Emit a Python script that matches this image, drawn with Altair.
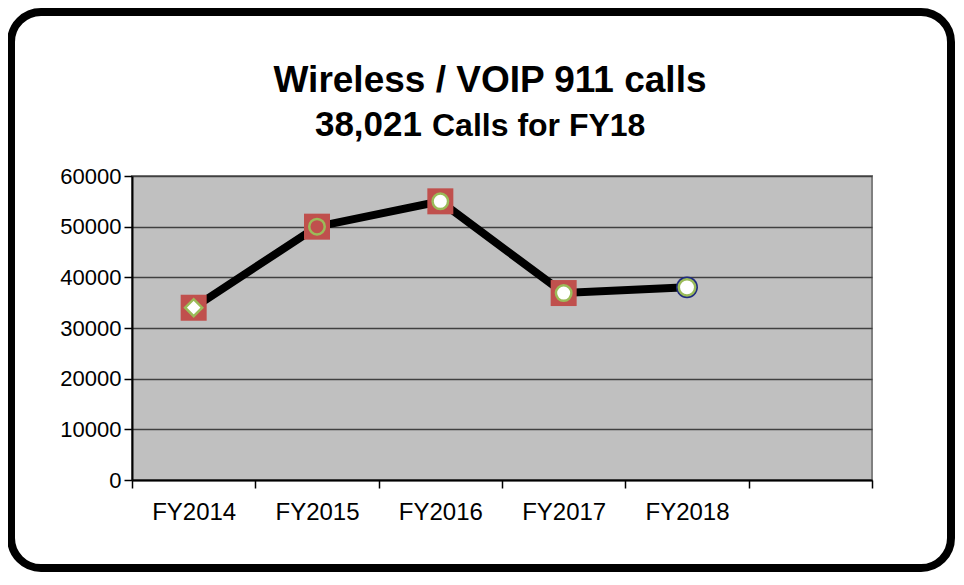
import altair as alt
import pandas as pd

years = ["FY2014", "FY2015", "FY2016", "FY2017", "FY2018"]
calls = [34000, 50000, 55000, 36900, 38021]
x_domain = years + [" "]
y_ticks = [0, 10000, 20000, 30000, 40000, 50000, 60000]

# marker styling per point
back_square = [True, True, True, True, False]
inner_shape = ["diamond", "circle", "circle", "circle", "circle"]
inner_fill = ["white", "#C0504D", "white", "white", "white"]
inner_size = [290, 240, 240, 240, 270]
outer_ring = [False, False, False, False, True]

title1 = "Wireless / VOIP 911 calls"
title2a = "38,021"
title2b = "Calls for FY18"

FONT = "Liberation Sans"

df = pd.DataFrame({
    "year": years, "calls": calls, "square": back_square,
    "shape": inner_shape, "fill": inner_fill, "isize": inner_size,
    "ring": outer_ring,
})

xenc = alt.X("year:N", scale=alt.Scale(type="band", domain=x_domain, paddingInner=0, paddingOuter=0),
             bandPosition=0.5,
             axis=alt.Axis(title=None, labelAngle=0, tickBand="extent", tickSize=8, tickColor="#000000",
                           tickWidth=1.5, domainColor="#000000", domainWidth=2, labelFont=FONT,
                           labelFontSize=24, labelColor="#000000", labelPadding=12, grid=False))
yenc = alt.Y("calls:Q", scale=alt.Scale(domain=[0, 60000], nice=False),
             axis=alt.Axis(title=None, values=y_ticks, format="d", tickSize=8, tickColor="#000000",
                           tickWidth=1.5, domainColor="#000000", domainWidth=2, labelFont=FONT,
                           labelFontSize=22, labelColor="#000000", labelPadding=3,
                           grid=True, gridColor="#404040", gridWidth=1.5))

base = alt.Chart(df)

line = base.mark_line(color="#000000", strokeWidth=8, strokeJoin="miter").encode(x=xenc, y=yenc)

squares = base.transform_filter("datum.square").mark_point(
    shape="square", filled=True, color="#C0504D", size=676, opacity=1
).encode(x=xenc, y=yenc)

rings = base.transform_filter("datum.ring").mark_point(
    shape="circle", filled=True, color="#1F2A80", size=480, opacity=1
).encode(x=xenc, y=yenc)

inner = base.mark_point(stroke="#9BBB59", strokeWidth=2.5, opacity=1).encode(
    x=xenc, y=yenc,
    shape=alt.Shape("shape:N", scale=None),
    fill=alt.Fill("fill:N", scale=None),
    size=alt.Size("isize:Q", scale=None),
)

one = pd.DataFrame({"k": [0]})
t1 = alt.Chart(one).mark_text(text=title1, font=FONT, fontWeight="bold", fontSize=37,
                              align="center", baseline="alphabetic", color="#000000").encode(
    x=alt.value(358), y=alt.value(-84))
t2a = alt.Chart(one).mark_text(text=title2a, font=FONT, fontWeight="bold", fontSize=35,
                               align="right", baseline="alphabetic", color="#000000").encode(
    x=alt.value(290), y=alt.value(-40))
t2b = alt.Chart(one).mark_text(text=title2b, font=FONT, fontWeight="bold", fontSize=32,
                               align="left", baseline="alphabetic", color="#000000").encode(
    x=alt.value(300), y=alt.value(-40))

frame = alt.Chart(one).mark_rect(fill="transparent", stroke="#000000", strokeWidth=8,
                                 cornerRadius=30).encode(
    x=alt.value(-121), x2=alt.value(819), y=alt.value(-164), y2=alt.value(392))

chart = alt.layer(line, squares, rings, inner, t1, t2a, t2b, frame).properties(
    width=740, height=304,
    autosize=alt.AutoSizeParams(type="none"),
    padding={"left": 124, "top": 168, "right": 84, "bottom": 92},
).configure(background="white").configure_view(
    fill="#C0C0C0", stroke="#808080", strokeWidth=2
)

chart.save("out.html", embed_options={"renderer": "svg", "actions": False})
